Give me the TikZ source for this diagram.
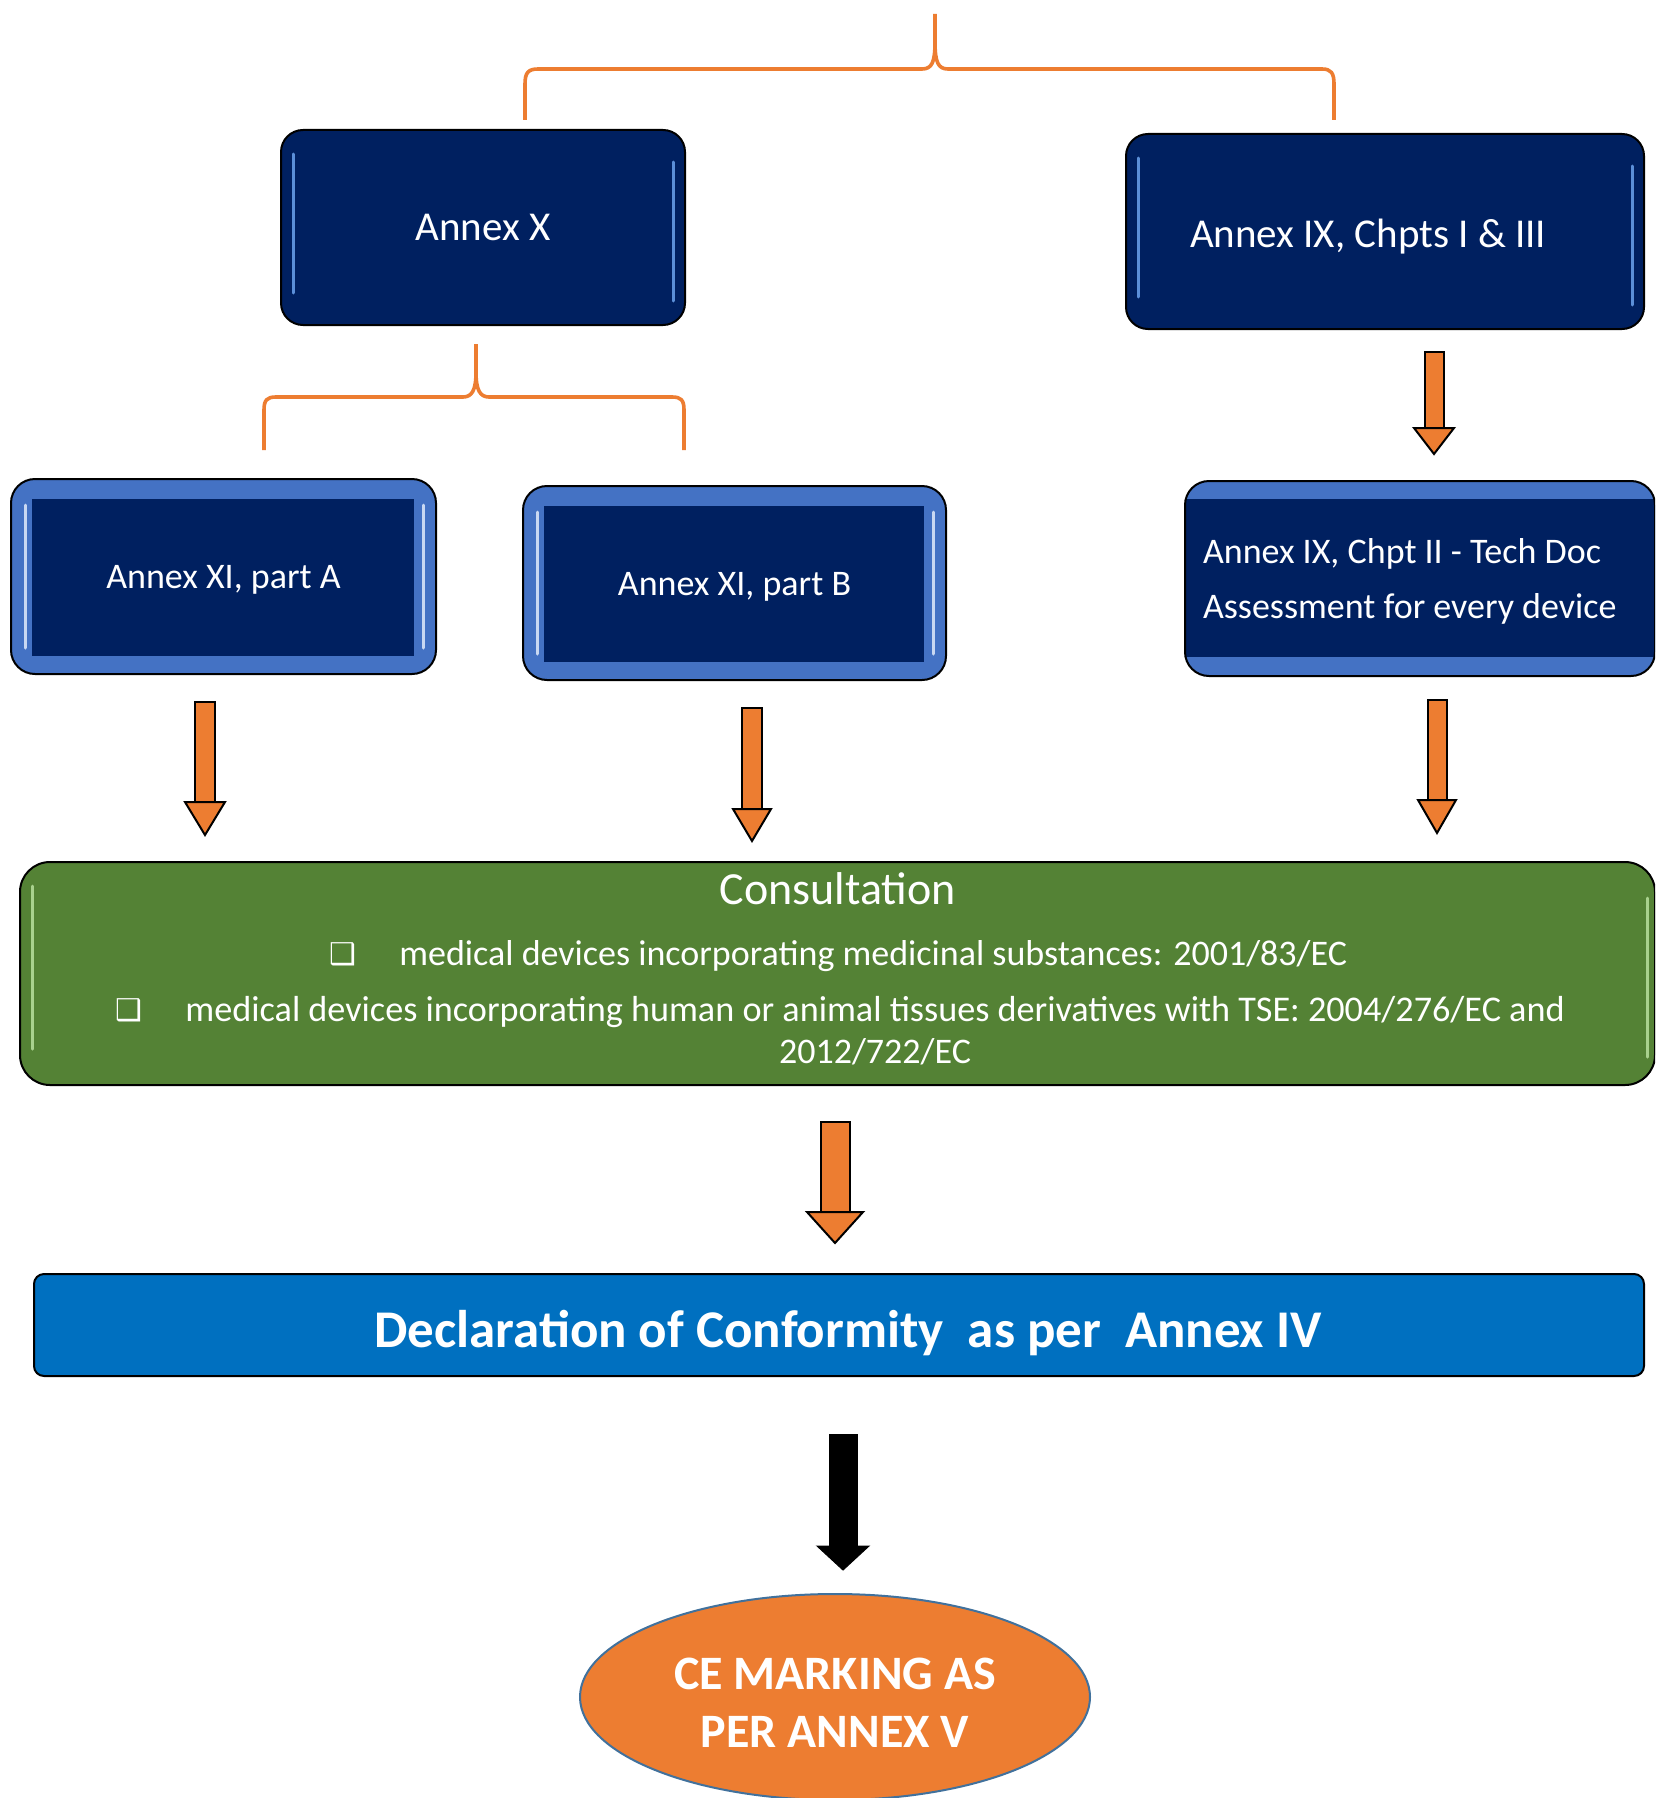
\documentclass[tikz,border=0pt]{standalone}
\usepackage{fontspec}
\setmainfont{Carlito}
\newfontfamily\dingfont{DejaVu Sans}
\usetikzlibrary{shapes.geometric}

\definecolor{navy}{HTML}{002060}
\definecolor{boxblue}{HTML}{4472C4}
\definecolor{leafgreen}{HTML}{548235}
\definecolor{flame}{HTML}{ED7D31}
\definecolor{barblue}{HTML}{0070C0}
\definecolor{rimblue}{HTML}{41719C}
\definecolor{glowblue}{HTML}{5B8FD8}
\definecolor{glowpale}{HTML}{C9D8F2}
\definecolor{glowgreen}{HTML}{A9D18E}

% block arrow: style, x, top, neck, tip, half shaft width, half head width
\newcommand{\blockarrow}[7]{%
  \filldraw[#1] (#2-#6,#3) rectangle (#2+#6,#4);
  \filldraw[#1] (#2-#7,#4) -- (#2+#7,#4) -- (#2,#5) -- cycle;
}
% invisible strut that sets a line a little lower in its box
\newcommand{\lift}[1]{\rule{0pt}{#1}}

\begin{document}
\begin{tikzpicture}[x=0.5pt,y=-0.5pt,
  darkbox/.style={draw=black, line width=1pt, fill=navy, rounded corners=11pt,
    text=white, font=\fontsize{20.5}{25}\selectfont,
    path picture={
      \draw[glowblue, line width=1.5pt, line cap=round, sharp corners]
        ([xshift=6pt,yshift=-12pt]path picture bounding box.north west) --
        ([xshift=6pt,yshift=16pt]path picture bounding box.south west);
      \draw[glowblue, line width=1.5pt, line cap=round, sharp corners]
        ([xshift=-6pt,yshift=-16pt]path picture bounding box.north east) --
        ([xshift=-6pt,yshift=12pt]path picture bounding box.south east);
    }},
  framedbox/.style={draw=black, line width=1pt, fill=boxblue, rounded corners=12pt,
    text=white, font=\fontsize{18}{22}\selectfont,
    path picture={
      \fill[navy, sharp corners] ([xshift=10.5pt,yshift=-10pt]path picture bounding box.north west)
        rectangle ([xshift=-11pt,yshift=9pt]path picture bounding box.south east);
      \draw[glowpale, line width=1.5pt, line cap=round, sharp corners]
        ([xshift=7pt,yshift=-13pt]path picture bounding box.north west) --
        ([xshift=7pt,yshift=13pt]path picture bounding box.south west);
      \draw[glowpale, line width=1.5pt, line cap=round, sharp corners]
        ([xshift=-6.5pt,yshift=-13pt]path picture bounding box.north east) --
        ([xshift=-6.5pt,yshift=13pt]path picture bounding box.south east);
    }},
  bandbox/.style={draw=black, line width=1pt, fill=boxblue, rounded corners=12pt,
    text=white, font=\fontsize{18}{22}\selectfont,
    path picture={
      \fill[navy, sharp corners] ([yshift=-9pt]path picture bounding box.north west)
        rectangle ([yshift=9.5pt]path picture bounding box.south east);
    }},
  greenbox/.style={draw=black, line width=1pt, fill=leafgreen, rounded corners=15pt,
    path picture={
      \draw[glowgreen, line width=1.5pt, line cap=round, sharp corners]
        ([xshift=6pt,yshift=-12pt]path picture bounding box.north west) --
        ([xshift=6pt,yshift=18pt]path picture bounding box.south west);
      \draw[glowgreen, line width=1.5pt, line cap=round, sharp corners]
        ([xshift=-4pt,yshift=-18pt]path picture bounding box.north east) --
        ([xshift=-4pt,yshift=14pt]path picture bounding box.south east);
    }},
  barbox/.style={draw=black, line width=1pt, fill=barblue, rounded corners=5pt,
    text=white, font=\bfseries\fontsize{26.5}{30}\selectfont},
  ovalbox/.style={ellipse, draw=rimblue, line width=1pt, fill=flame,
    text=white, font=\bfseries\fontsize{24}{29}\selectfont, align=center},
  plain/.style={text=white, inner sep=0pt},
  brace/.style={draw=flame, line width=1.8pt},
  orangearrow/.style={fill=flame, draw=black, line width=1pt},
  blackarrow/.style={fill=black, draw=black, line width=0.5pt}]

\useasboundingbox (0,0) rectangle (1655,1798);
\clip (0,0) rectangle (1655,1798);
\fill[white] (0,0) rectangle (1655,1798);

% upper brace
\draw[brace] (525,120) -- (525,84) .. controls (525,73) and (528,69) .. (538,69)
  -- (922,69) .. controls (932,69) and (935,62) .. (935,42) -- (935,14);
\draw[brace] (935,42) .. controls (935,62) and (938,69) .. (948,69)
  -- (1322,69) .. controls (1331,69) and (1334,73) .. (1334,84) -- (1334,120);

% first row
\node[darkbox, minimum width=202pt, minimum height=97.5pt] (annexX) at (483,227.5) {Annex X};
\node[darkbox, minimum width=259pt, minimum height=97.5pt, text width=195pt,
  inner xsep=32pt, align=flush left] (annexIX) at (1385,231.5) {\lift{18.9pt}Annex IX, Chpts I \& III};

% lower brace
\draw[brace] (264,450) -- (264,410) .. controls (264,400) and (267,397) .. (276,397)
  -- (463,397) .. controls (472,397) and (476,390) .. (476,372) -- (476,344);
\draw[brace] (476,372) .. controls (476,390) and (480,397) .. (489,397)
  -- (672,397) .. controls (681,397) and (684,400) .. (684,410) -- (684,450);

\blockarrow{orangearrow}{1434}{352}{428}{454}{9.5}{20}

% second row
\node[framedbox, minimum width=212.5pt, minimum height=97.5pt] (partA) at (223.5,576.5) {\lift{15.1pt}Annex XI, part A};
\node[framedbox, minimum width=211.5pt, minimum height=97pt] (partB) at (734.5,583) {\lift{15.1pt}Annex XI, part B};
\node[bandbox, minimum width=235pt, minimum height=97.5pt, text width=217pt,
  inner xsep=9pt, align=flush left, font=\fontsize{18}{27.5}\selectfont] (chptII) at (1420,578.5)
  {\lift{15.8pt}Annex IX, Chpt II - Tech Doc\\Assessment for every device};

\blockarrow{orangearrow}{205}{702}{802}{835}{10}{20}
\blockarrow{orangearrow}{752}{708}{809}{841}{10}{19}
\blockarrow{orangearrow}{1437}{700}{800}{833}{9.5}{19}

% consultation
\node[greenbox, minimum width=817.5pt, minimum height=111.5pt] (consult) at (837.5,973.5) {};
\node[plain, font=\fontsize{23}{27}\selectfont] (consultTitle) at (838,889) {Consultation};
\node[plain, font=\dingfont\fontsize{15}{18}\selectfont] (dotOne) at (343,954) {❑};
\node[plain, anchor=west, font=\fontsize{18}{22}\selectfont] (itemOne) at (399,956)
  {medical devices incorporating medicinal substances: 2001/83/EC};
\node[plain, font=\dingfont\fontsize{15}{18}\selectfont] (dotTwo) at (129,1010) {❑};
\node[plain, anchor=west, font=\fontsize{18.1}{22}\selectfont] (itemTwo) at (185,1012)
  {medical devices incorporating human or animal tissues derivatives with TSE: 2004/276/EC and};
\node[plain, font=\fontsize{18}{22}\selectfont] (itemTwoEnd) at (875,1052) {2012/722/EC};

\blockarrow{orangearrow}{835}{1122}{1212}{1243}{14.5}{28}

% declaration
\node[barbox, minimum width=805pt, minimum height=51pt] (decl) at (839,1325)
  {\lift{26.9pt}\hspace*{9pt}Declaration of Conformity\ \ as per\ \ Annex IV};

\blockarrow{blackarrow}{843}{1434}{1546}{1570}{14}{26}

% CE marking
\node[ovalbox, minimum width=255pt, minimum height=103pt] (ce) at (835,1697)
  {\lift{21.3pt}CE MARKING AS\\PER ANNEX V};

\end{tikzpicture}
\end{document}
